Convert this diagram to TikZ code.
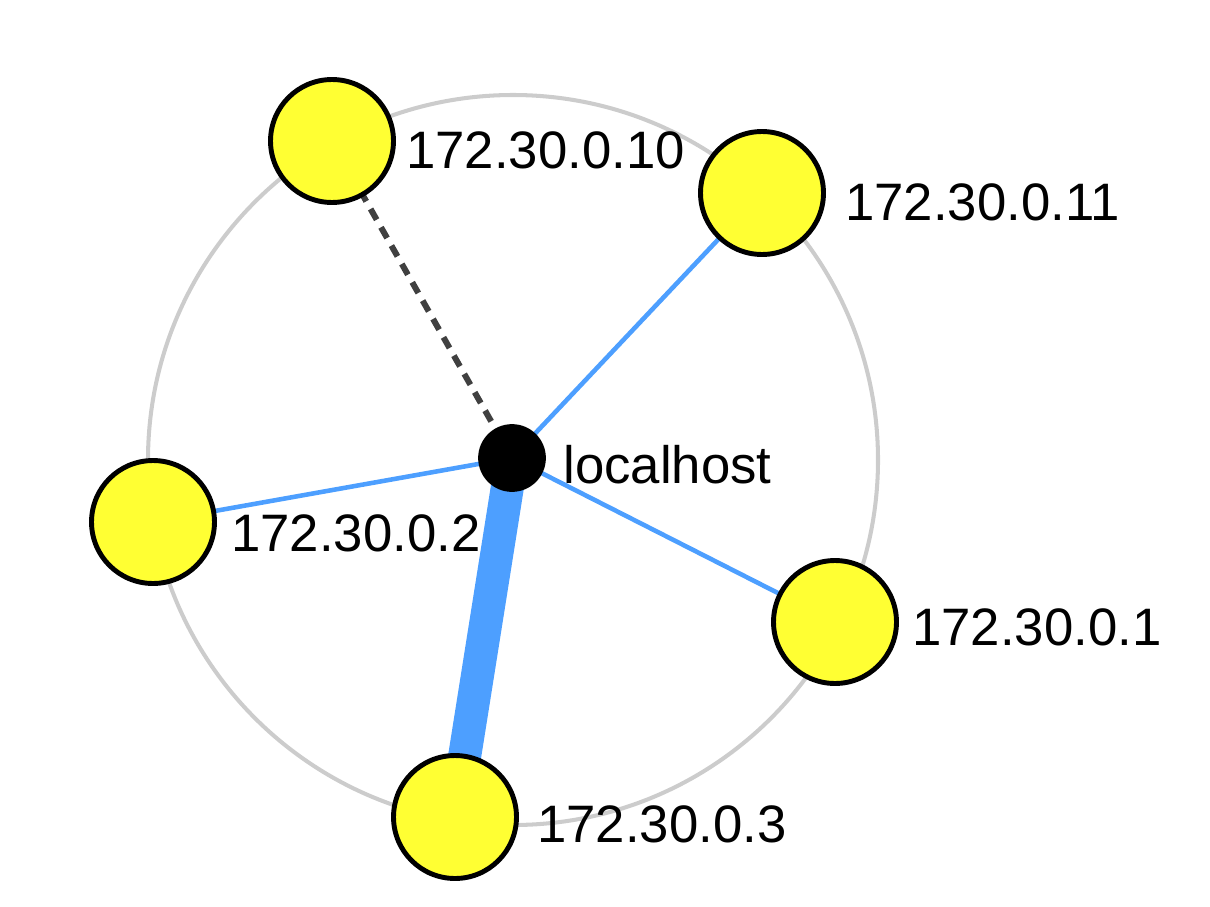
\documentclass[tikz,border=0pt]{standalone}
\usepackage{fontspec}
\setmainfont{Liberation Sans}
\usetikzlibrary{backgrounds}

\definecolor{hostyellow}{HTML}{FFFF33}
\definecolor{linkblue}{HTML}{4D9FFF}
\definecolor{ringgray}{HTML}{CCCCCC}
\definecolor{dashgray}{HTML}{404040}

\begin{document}
\begin{tikzpicture}[x=0.02cm, y=-0.02cm,
    host/.style={circle, draw=black, line width=2.8pt, fill=hostyellow, minimum size=2.46cm, inner sep=0pt},
    local/.style={circle, draw=black, fill=black, line width=1pt, minimum size=1.32cm, inner sep=0pt},
    hostlabel/.style={anchor=base west, inner sep=0pt, font=\fontsize{30}{36}\selectfont},
    link/.style={draw=linkblue, line width=2.6pt},
    heavy link/.style={draw=linkblue, line width=18.8pt},
    idle link/.style={draw=dashgray, line width=3.4pt, dash pattern=on 7pt off 5pt},
    ring/.style={draw=ringgray, line width=2.3pt}]
    \useasboundingbox (0,0) rectangle (1210,906);
    % hosts
    \node [local] (lh) at (512,458) {};
    \node [host] (h10) at (332,141) {};
    \node [host] (h11) at (762,193) {};
    \node [host] (h2) at (153,522) {};
    \node [host] (h1) at (835,622) {};
    \node [host] (h3) at (455,817) {};
    % labels
    \node [hostlabel] (lbl-lh) at (563,483) {localhost};
    \node [hostlabel] (lbl-10) at (406,168) {172.30.0.10};
    \node [hostlabel] (lbl-11) at (845,220) {172.30.0.11};
    \node [hostlabel] (lbl-2) at (231,551) {172.30.0.2};
    \node [hostlabel] (lbl-1) at (912,645) {172.30.0.1};
    \node [hostlabel] (lbl-3) at (537,842) {172.30.0.3};
    % ring and links behind the hosts
    \begin{scope}[on background layer]
        \draw [ring] (513,460) circle (365);
        \draw [idle link] (lh.center) -- (h10.center);
        \draw [link] (lh.center) -- (h11.center);
        \draw [link] (lh.center) -- (h2.center);
        \draw [link] (lh.center) -- (h1.center);
        \draw [heavy link] (lh.center) -- (h3.center);
    \end{scope}
\end{tikzpicture}
\end{document}
